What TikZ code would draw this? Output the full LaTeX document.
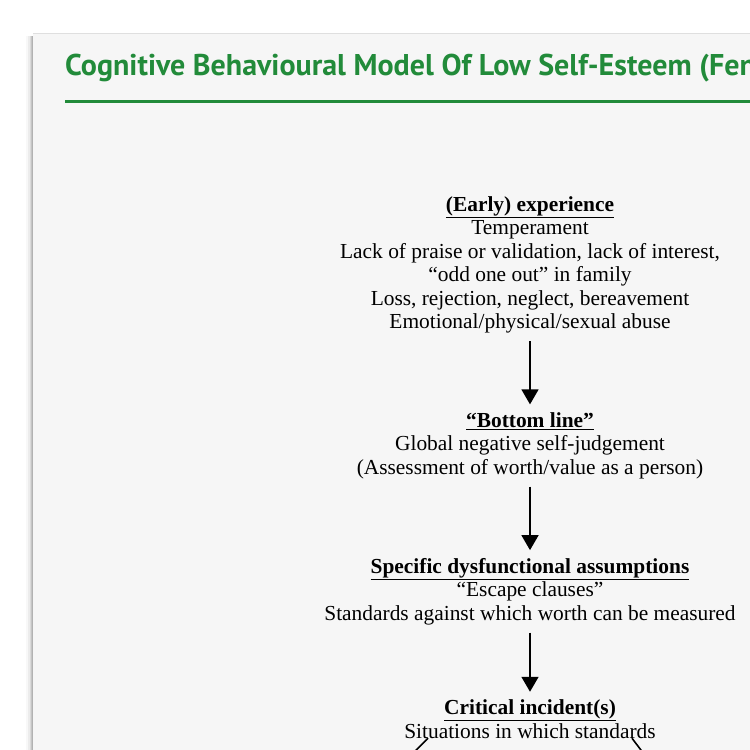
\documentclass[tikz,border=0pt]{standalone}
\usepackage{fontspec}
\setmainfont{Liberation Serif}
\newfontfamily\titlefont{PT Sans}
\usetikzlibrary{positioning,arrows.meta,calc}
\definecolor{cbtGreen}{RGB}{34,139,58}
\definecolor{cbtPage}{RGB}{246,246,246}
\definecolor{cbtShadow}{RGB}{150,150,150}

\tikzset{
  stage/.style={align=center, font={\fontsize{21.4}{23.4}\selectfont}, inner sep=4pt, outer sep=4pt},
  flowarrow/.style={line width=1.6pt, -{Triangle[width=17pt,length=15pt]}},
}
\newcommand{\stagehead}[1]{\underline{\textbf{#1}}}

\begin{document}
\begin{tikzpicture}[x=1pt, y=-1pt]
  \useasboundingbox (0,0) rectangle (750,750);
  \clip (0,0) rectangle (750,750);
  \fill[white] (0,0) rectangle (750,750);
  % page with soft shadow on the left
  \foreach \s/\o in {7/0.06,5/0.12,3.5/0.2,2/0.3,1/0.4}
    \fill[cbtShadow, opacity=\o] (33-\s,36) rectangle (33,760);
  \fill[cbtPage] (33,33) rectangle (760,760);
  \draw[gray!25, line width=0.6pt] (33,33) -- (760,33);

  % title
  \node[anchor=base west, inner sep=0pt, text=cbtGreen,
        font={\titlefont\bfseries\fontsize{30}{36}\selectfont}] (title) at (65,75)
    {Cognitive Behavioural Model Of Low Self-Esteem (Fennell, 1997)};
  \draw[cbtGreen, line width=3pt] (65,101) -- (760,101);

  % stages (anchored on the baseline of their last line)
  \node[stage, anchor=base] (early) at (530,328.5)
    {\stagehead{(Early) experience}\\
     Temperament\\
     Lack of praise or validation, lack of interest,\\
     “odd one out” in family\\
     Loss, rejection, neglect, bereavement\\
     Emotional/physical/sexual abuse};
  \node[stage, anchor=base] (bottomline) at (530,474)
    {\stagehead{“Bottom line”}\\
     Global negative self-judgement\\
     (Assessment of worth/value as a person)};
  \node[stage, anchor=base] (assumptions) at (530,620)
    {\stagehead{Specific dysfunctional assumptions}\\
     “Escape clauses”\\
     Standards against which worth can be measured};
  \node[stage, anchor=base] (incident) at (530,738)
    {\stagehead{Critical incident(s)}\\
     Situations in which standards};

  \draw[flowarrow] (early) -- (bottomline);
  \draw[flowarrow] (bottomline) -- (assumptions);
  \draw[flowarrow] (assumptions) -- (incident);

  % branches leaving the page
  \coordinate (leftend) at (392,774);
  \coordinate (rightend) at (656,770);
  \draw[flowarrow] ($(incident.south)+(-102,-8)$) -- (leftend);
  \draw[flowarrow] ($(incident.south)+(102,-8)$) -- (rightend);
\end{tikzpicture}
\end{document}
